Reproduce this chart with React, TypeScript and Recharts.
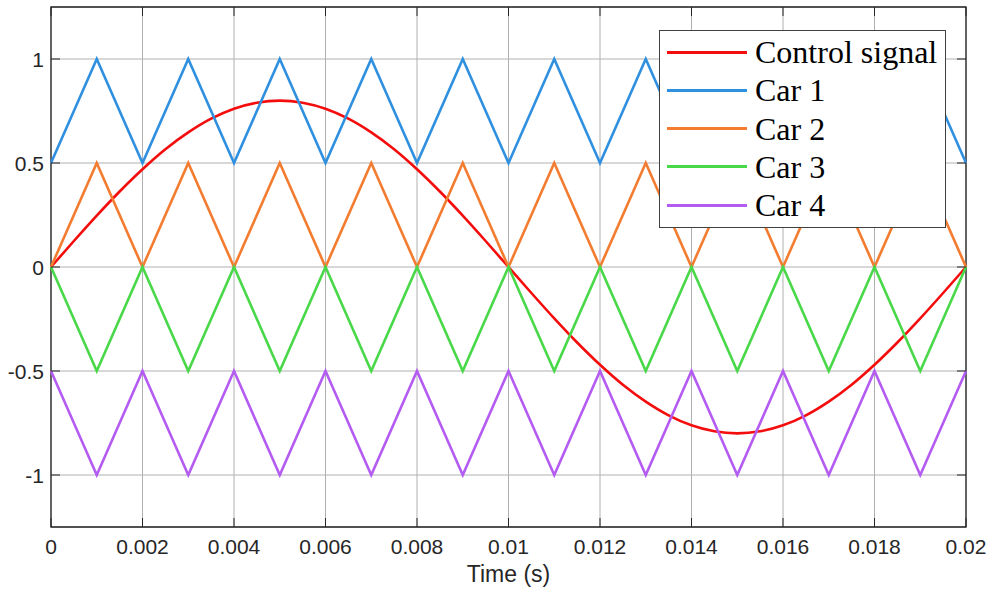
import { LineChart, Line, XAxis, YAxis, CartesianGrid, Legend, ReferenceArea, Label } from 'recharts';

const PLOT_TOP = 7;
const PLOT_BOTTOM = 527;
const TICK_LEN = 9;

const X_TICKS = [0, 0.002, 0.004, 0.006, 0.008, 0.01, 0.012, 0.014, 0.016, 0.018, 0.02];
const Y_TICKS = [-1, -0.5, 0, 0.5, 1];

// carrier vertices, every 1 ms
const CARRIER_TIME = [0, 0.001, 0.002, 0.003, 0.004, 0.005, 0.006, 0.007, 0.008, 0.009, 0.01,
  0.011, 0.012, 0.013, 0.014, 0.015, 0.016, 0.017, 0.018, 0.019, 0.02];
const CAR1 = [0.5, 1, 0.5, 1, 0.5, 1, 0.5, 1, 0.5, 1, 0.5, 1, 0.5, 1, 0.5, 1, 0.5, 1, 0.5, 1, 0.5];
const CAR2 = [0, 0.5, 0, 0.5, 0, 0.5, 0, 0.5, 0, 0.5, 0, 0.5, 0, 0.5, 0, 0.5, 0, 0.5, 0, 0.5, 0];
const CAR3 = [0, -0.5, 0, -0.5, 0, -0.5, 0, -0.5, 0, -0.5, 0, -0.5, 0, -0.5, 0, -0.5, 0, -0.5, 0, -0.5, 0];
const CAR4 = [-0.5, -1, -0.5, -1, -0.5, -1, -0.5, -1, -0.5, -1, -0.5, -1, -0.5, -1, -0.5, -1, -0.5, -1, -0.5, -1, -0.5];

// control signal, read every 0.5 ms
const SIGNAL_TIME = [0, 0.0005, 0.001, 0.0015, 0.002, 0.0025, 0.003, 0.0035, 0.004, 0.0045, 0.005,
  0.0055, 0.006, 0.0065, 0.007, 0.0075, 0.008, 0.0085, 0.009, 0.0095, 0.01,
  0.0105, 0.011, 0.0115, 0.012, 0.0125, 0.013, 0.0135, 0.014, 0.0145, 0.015,
  0.0155, 0.016, 0.0165, 0.017, 0.0175, 0.018, 0.0185, 0.019, 0.0195, 0.02];
const SIGNAL = [0, 0.125, 0.247, 0.363, 0.47, 0.566, 0.647, 0.713, 0.761, 0.79, 0.8,
  0.79, 0.761, 0.713, 0.647, 0.566, 0.47, 0.363, 0.247, 0.125, 0,
  -0.125, -0.247, -0.363, -0.47, -0.566, -0.647, -0.713, -0.761, -0.79, -0.8,
  -0.79, -0.761, -0.713, -0.647, -0.566, -0.47, -0.363, -0.247, -0.125, 0];

const SERIES_NAMES = ['Control signal', 'Car 1', 'Car 2', 'Car 3', 'Car 4'];
const SERIES_COLORS = ['#f40d0d', '#3090e0', '#f47c30', '#48d848', '#b45cf2'];

const toRows = (ts: number[], vs: number[]) => ts.map((t, i) => ({ t, v: vs[i] }));

const signalData = toRows(SIGNAL_TIME, SIGNAL);
const carData = [CAR1, CAR2, CAR3, CAR4].map((vs) => toRows(CARRIER_TIME, vs));

const AXIS_COLOR = '#262626';
const TICK_FONT = "'Liberation Sans', Arial, sans-serif";

function XTick({ x, payload }: any) {
  return (
    <g>
      <line x1={x} y1={PLOT_BOTTOM} x2={x} y2={PLOT_BOTTOM - TICK_LEN} stroke={AXIS_COLOR} strokeWidth={1} />
      <line x1={x} y1={PLOT_TOP} x2={x} y2={PLOT_TOP + TICK_LEN} stroke={AXIS_COLOR} strokeWidth={1} />
      <text x={x} y={554} textAnchor="middle" fontSize={21} fontFamily={TICK_FONT} fill={AXIS_COLOR}>
        {String(payload.value)}
      </text>
    </g>
  );
}

function YTick({ y, payload }: any) {
  return (
    <g>
      <line x1={51} y1={y} x2={51 + TICK_LEN} y2={y} stroke={AXIS_COLOR} strokeWidth={1} />
      <line x1={966} y1={y} x2={966 - TICK_LEN} y2={y} stroke={AXIS_COLOR} strokeWidth={1} />
      <text x={44} y={y + 7.5} textAnchor="end" fontSize={21} fontFamily={TICK_FONT} fill={AXIS_COLOR}>
        {String(payload.value)}
      </text>
    </g>
  );
}

function LegendBox() {
  return (
    <div
      style={{
        position: 'relative',
        width: 287,
        height: 198,
        boxSizing: 'border-box',
        border: '1.5px solid #404040',
        background: '#fff',
      }}
    >
      {SERIES_NAMES.map((name, i) => (
        <div
          key={name}
          style={{
            position: 'absolute',
            left: 7,
            top: 2 + i * 38.3,
            height: 38,
            display: 'flex',
            alignItems: 'center',
          }}
        >
          <span style={{ width: 80, height: 3, background: SERIES_COLORS[i], display: 'inline-block' }} />
          <span
            style={{
              marginLeft: 8,
              fontFamily: "'Liberation Serif', 'Times New Roman', serif",
              fontSize: 32,
              color: '#000',
              lineHeight: '38px',
              whiteSpace: 'nowrap',
            }}
          >
            {name}
          </span>
        </div>
      ))}
    </div>
  );
}

export default function App() {
  return (
    <div style={{ position: 'absolute', left: 0, top: 0, width: 992, height: 592, background: '#fff' }}>
      <LineChart width={992} height={592} margin={{ top: PLOT_TOP, right: 26, bottom: 0, left: 0 }}>
        <CartesianGrid stroke="#b0b0b0" strokeWidth={1} />
        <XAxis
          dataKey="t"
          type="number"
          domain={[0, 0.02]}
          ticks={X_TICKS}
          height={65}
          axisLine={false}
          tickLine={false}
          tickSize={0}
          tick={<XTick />}
          allowDuplicatedCategory={false}
        >
          <Label
            value="Time (s)"
            position="insideBottom"
            offset={10}
            style={{ fontSize: 23, fontFamily: TICK_FONT, fill: AXIS_COLOR }}
          />
        </XAxis>
        <YAxis
          type="number"
          domain={[-1.25, 1.25]}
          ticks={Y_TICKS}
          width={51}
          axisLine={false}
          tickLine={false}
          tickSize={0}
          tick={<YTick />}
        />
        <ReferenceArea
          x1={0}
          x2={0.02}
          y1={-1.25}
          y2={1.25}
          fill="none"
          stroke={AXIS_COLOR}
          strokeWidth={1.3}
          fillOpacity={0}
          ifOverflow="visible"
        />
        <Line
          data={signalData}
          dataKey="v"
          name={SERIES_NAMES[0]}
          type="monotone"
          stroke={SERIES_COLORS[0]}
          strokeWidth={2.6}
          dot={false}
          isAnimationActive={false}
        />
        {carData.map((d, i) => (
          <Line
            key={SERIES_NAMES[i + 1]}
            data={d}
            dataKey="v"
            name={SERIES_NAMES[i + 1]}
            type="linear"
            stroke={SERIES_COLORS[i + 1]}
            strokeWidth={2.6}
            dot={false}
            isAnimationActive={false}
          />
        ))}
        <Legend
          layout="vertical"
          align="center"
          verticalAlign="middle"
          content={<LegendBox />}
          wrapperStyle={{ left: 659, top: 30, width: 287, height: 198 }}
        />
      </LineChart>
    </div>
  );
}
